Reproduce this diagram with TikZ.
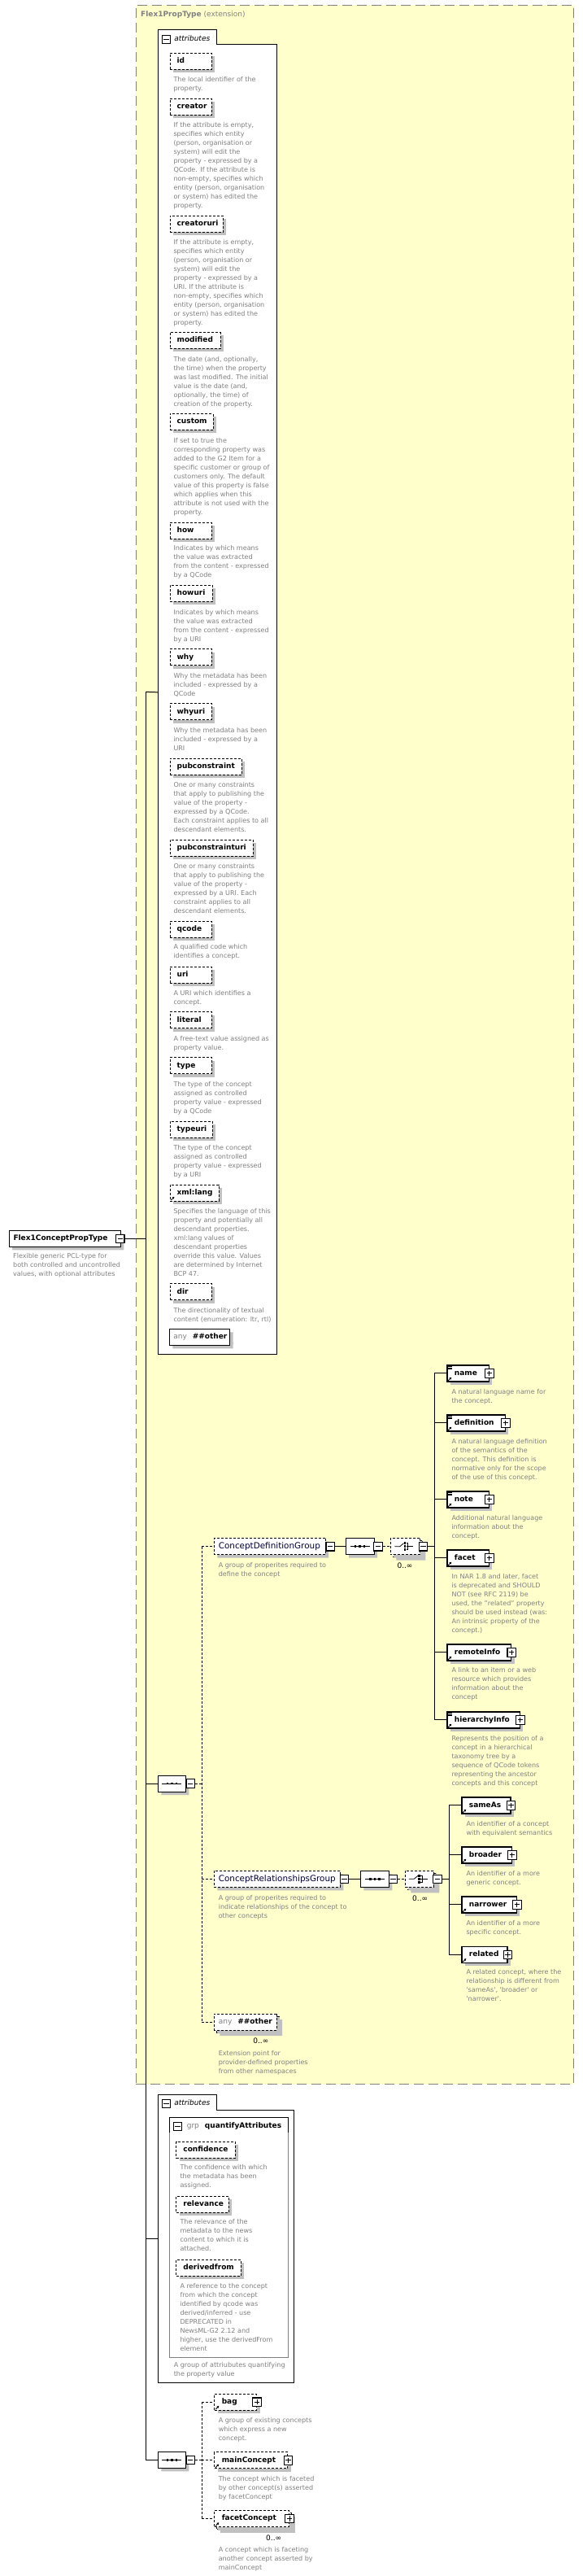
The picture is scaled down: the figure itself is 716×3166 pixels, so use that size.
\documentclass[tikz,border=0pt]{standalone}
\usepackage{fontspec}
\setmainfont{DejaVu Sans}
\usetikzlibrary{shapes.misc,shadows,arrows.meta}
\definecolor{yel}{RGB}{255,255,204}
\definecolor{dgray}{RGB}{128,128,128}
\definecolor{shc}{RGB}{192,192,192}
\definecolor{grpc}{RGB}{0,0,60}
\newcommand{\descfont}{\fontsize{8.05pt}{11pt}\selectfont}
\newcommand{\lblfont}{\fontsize{9pt}{11pt}\selectfont\bfseries}
\newcommand{\grpfont}{\fontsize{10.4pt}{12pt}\selectfont}
\newcommand{\mulfont}{\fontsize{9pt}{11pt}\selectfont}
\tikzset{
  shd/.style={general shadow={fill=shc, shadow xshift=4pt, shadow yshift=-4pt}},
  desc/.style={anchor=north west, inner sep=0pt, align=left, font=\descfont, text=dgray},
  lbl/.style={anchor=west, inner sep=0pt, font=\lblfont, text height=6.5pt, text depth=1.8pt},
  grplbl/.style={anchor=west, inner sep=0pt, font=\grpfont, text=grpc, text height=7.5pt, text depth=2pt},
  tablbl/.style={anchor=west, inner sep=0pt, font=\fontsize{9pt}{11pt}\selectfont\itshape, text height=6.5pt, text depth=1.8pt},
  rbox/.style={shape=rectangle, draw, fill=white, shd, minimum height=20pt, inner xsep=0pt, inner ysep=0pt, align=left, font=\lblfont, text height=6.5pt, text depth=1.8pt, anchor=north west},
  attrbox/.style={rbox, line width=0.9pt, dash pattern=on 3pt off 2pt},
  elbox/.style={rbox, line width=1.2pt},
  optbox/.style={rbox, line width=1pt, dash pattern=on 3pt off 2pt},
  oct/.style={chamfered rectangle, chamfered rectangle xsep=#1, chamfered rectangle ysep=#1, draw, fill=white, shd, inner sep=0pt, minimum height=20pt, line width=1pt},
  oct/.default=4pt,
  pmb/.style={shape=rectangle, draw, fill=white, line width=1.1pt, minimum width=10.5pt, minimum height=10.5pt, inner sep=0pt},
  minusb/.style={pmb, path picture={\draw[line width=1pt] ([xshift=-3.2pt]path picture bounding box.center) -- ([xshift=3.2pt]path picture bounding box.center);}},
  plusb/.style={pmb, path picture={\draw[line width=1pt] ([xshift=-3.2pt]path picture bounding box.center) -- ([xshift=3.2pt]path picture bounding box.center) ([yshift=-3.2pt]path picture bounding box.center) -- ([yshift=3.2pt]path picture bounding box.center);}},
  conn/.style={line width=1pt},
  oconn/.style={line width=1pt, dash pattern=on 3pt off 2pt},
  mul/.style={inner sep=0pt, font=\mulfont},
  odash/.style={dash pattern=on 3pt off 2pt},
}
\newcommand{\att}[5]{\node[attrbox, text width=#4pt] (#1) at (#2,#3) {\hspace*{8.7pt}#5};}
\newcommand{\dsc}[4]{\node[desc] (#1) at (#2,{#3-5}) {\rule{0pt}{8pt}#4};}
\newcommand{\elt}[6]{\node[#6, text width=#4pt] (#1) at (#2,#3) {\hspace*{9pt}#5};\node[plusb] (#1p) at (#1.east) {};}
\newcommand{\eqicon}[1]{\draw[line width=0.6pt] ([shift={(1.6,2)}]#1.north west) -- ++(5,0) ([shift={(1.6,3.7)}]#1.north west) -- ++(5,0) ([shift={(1.6,5.4)}]#1.north west) -- ++(5,0);}
\newcommand{\refarrow}[1]{\draw[line width=0.9pt, -{Triangle[length=2.6pt,width=2.8pt]}] ([shift={(1.8,-1.6)}]#1.south west) -- ++(4.2,-4.2);}
\newcommand{\seqicon}[1]{\draw[line width=0.8pt] ([xshift=-12pt]#1.center) -- ([xshift=12pt]#1.center);
  \foreach \dx in {-5.5,0,5.5} \fill ([shift={({\dx-1.3},-1.3)}]#1.center) rectangle ++(2.6,2.6);}
\newcommand{\choiceicon}[1]{\draw[line width=0.8pt] ([xshift=-13pt]#1.center) -- ([xshift=-6.6pt]#1.center) -- ([shift={(-1.8,-4)}]#1.center);
  \foreach \dy in {-4,0,4} \fill ([shift={(-1.7,{\dy-1.3})}]#1.center) rectangle ++(2.6,2.6);
  \draw[line width=0.8pt] ([shift={(1.2,-4)}]#1.center) -- ([shift={(3.4,-4)}]#1.center) -- ([shift={(3.4,4)}]#1.center) -- ([shift={(1.2,4)}]#1.center)
     ([shift={(1.2,0)}]#1.center) -- ([shift={(10,0)}]#1.center);}
\begin{document}
\begin{tikzpicture}[x=1pt,y=-1pt,line width=1pt]
\useasboundingbox (0,0) rectangle (716,3166);

% ---------- extension box ----------
\node[draw=dgray, fill=yel, dash pattern=on 12pt off 6pt, line width=1.2pt, minimum width=538.3pt, minimum height=2555.3pt, anchor=north west, inner sep=0pt] (ext) at (166.7,5.7) {};
\node[anchor=west, inner sep=0pt, font=\fontsize{9pt}{11pt}\selectfont, text=dgray] (title) at (172.7,18) {\textbf{Flex1PropType} (extension)};

% ---------- root ----------
\node[oct=4pt, minimum width=137.3pt] (root) at (79.65,1522.3) {};
\node[lbl] (rootl) at (16,1522.3) {Flex1ConceptPropType};
\node[minusb] (rootm) at (147.7,1522.3) {};
\dsc{rootd}{15.7}{1543.3}{Flexible generic PCL-type for\\both controlled and uncontrolled\\values, with optional attributes}

% ---------- attributes 1 ----------
\node[anchor=north west, minimum width=146.2pt, minimum height=1627.3pt, inner sep=0pt] (attrs1) at (194.3,36.7) {};
\draw[fill=white] (194.3,1664) -- (194.3,36.7) -- (266,36.7) -- (266,55) -- (340.5,55) -- (340.5,1664) -- cycle;
\node[minusb] (a1m) at (204.6,48.5) {};
\node[tablbl] (a1t) at (213.8,48) {attributes};

\att{id}{208.5}{65}{51.5}{id}
\dsc{idd}{213}{96.7}{The local identifier of the\\property.}
\att{creator}{208.5}{121}{51.5}{creator}
\dsc{creatord}{213}{153}{If the attribute is empty,\\specifies which entity\\(person, organisation or\\system) will edit the\\property - expressed by a\\QCode. If the attribute is\\non-empty, specifies which\\entity (person, organisation\\or system) has edited the\\property.}
\att{creatoruri}{208.5}{265}{65.5}{creatoruri}
\dsc{creatorurid}{213}{297}{If the attribute is empty,\\specifies which entity\\(person, organisation or\\system) will edit the\\property - expressed by a\\URI. If the attribute is\\non-empty, specifies which\\entity (person, organisation\\or system) has edited the\\property.}
\att{modified}{208.5}{408}{62.2}{modified}
\dsc{modifiedd}{213}{440.7}{The date (and, optionally,\\the time) when the property\\was last modified. The initial\\value is the date (and,\\optionally, the time) of\\creation of the property.}
\att{custom}{208.5}{508}{53.2}{custom}
\dsc{customd}{213}{540.7}{If set to true the\\corresponding property was\\added to the G2 Item for a\\specific customer or group of\\customers only. The default\\value of this property is false\\which applies when this\\attribute is not used with the\\property.}
\att{how}{208.5}{641.7}{51.5}{how}
\dsc{howd}{213}{673}{Indicates by which means\\the value was extracted\\from the content - expressed\\by a QCode}
\att{howuri}{208.5}{719}{52.5}{howuri}
\dsc{howurid}{213}{751.7}{Indicates by which means\\the value was extracted\\from the content - expressed\\by a URI}
\att{why}{208.5}{797.3}{51.5}{why}
\dsc{whyd}{213}{830}{Why the metadata has been\\included - expressed by a\\QCode}
\att{whyuri}{208.5}{864.3}{51.5}{whyuri}
\dsc{whyurid}{213}{896.7}{Why the metadata has been\\included - expressed by a\\URI}
\att{pubconstraint}{208.5}{931.7}{88.5}{pubconstraint}
\dsc{pubconstraintd}{213}{963.7}{One or many constraints\\that apply to publishing the\\value of the property -\\expressed by a QCode.\\Each constraint applies to all\\descendant elements.}
\att{pubconstrainturi}{208.5}{1031.7}{102.5}{pubconstrainturi}
\dsc{pubconstrainturid}{213}{1063.7}{One or many constraints\\that apply to publishing the\\value of the property -\\expressed by a URI. Each\\constraint applies to all\\descendant elements.}
\att{qcode}{208.5}{1131.7}{51.5}{qcode}
\dsc{qcoded}{213}{1163.3}{A qualified code which\\identifies a concept.}
\att{uri}{208.5}{1187.7}{51.5}{uri}
\dsc{urid}{213}{1220}{A URI which identifies a\\concept.}
\att{literal}{208.5}{1243.3}{51.5}{literal}
\dsc{literald}{213}{1276}{A free-text value assigned as\\property value.}
\att{type}{208.5}{1299.3}{51.5}{type}
\dsc{typed}{213}{1332}{The type of the concept\\assigned as controlled\\property value - expressed\\by a QCode}
\att{typeuri}{208.5}{1377.7}{52.5}{typeuri}
\dsc{typeurid}{213}{1410}{The type of the concept\\assigned as controlled\\property value - expressed\\by a URI}
\att{xmllang}{208.5}{1455.7}{60.2}{xml:lang}
\refarrow{xmllang}
\dsc{xmllangd}{213}{1487.7}{Specifies the language of this\\property and potentially all\\descendant properties.\\xml:lang values of\\descendant properties\\override this value. Values\\are determined by Internet\\BCP 47.}
\att{dir}{208.5}{1577.3}{51.5}{dir}
\dsc{dird}{213}{1610}{The directionality of textual\\content (enumeration: ltr, rtl)}
\node[oct=4pt, minimum width=74.4pt] (anya) at (245.5,1643.3) {};
\node[lbl] (anyal) at (212.8,1643.3) {\textmd{\textcolor{dgray}{any}}\hspace{7pt}\#\#other};

% ---------- inner sequence ----------
\node[oct=6pt, minimum width=34pt] (seqa) at (211.3,2192) {};
\seqicon{seqa}
\node[minusb] (seqam) at (234.2,2192) {};

% ---------- ConceptDefinitionGroup ----------
\node[oct=3.5pt, minimum width=136.7pt, odash] (cdg) at (331.65,1900.7) {};
\node[grplbl] (cdgl) at (268.3,1900.7) {ConceptDefinitionGroup};
\node[minusb] (cdgm) at (406.2,1900.7) {};
\dsc{cdgd}{268.3}{1922.7}{A group of properites required to\\define the concept}
\node[oct=6pt, minimum width=35pt] (seqg1) at (442.5,1900.7) {};
\seqicon{seqg1}
\node[minusb] (seqg1m) at (465,1900.7) {};
\node[oct=6pt, minimum width=36pt, odash] (chg1b) at (501.3,1903.7) {};
\node[oct=6pt, minimum width=36pt, odash] (chg1) at (498.3,1900.7) {};
\choiceicon{chg1}
\node[minusb] (chg1m) at (520.3,1900.7) {};
\node[mul] (chg1n) at (498,1924) {0..∞};

\elt{name}{549.3}{1677.3}{51.4}{name}{elbox}
\eqicon{name}\refarrow{name}
\dsc{named}{555}{1710}{A natural language name for\\the concept.}
\elt{defn}{549.3}{1738.3}{71.4}{definition}{elbox}
\eqicon{defn}\refarrow{defn}
\dsc{defnd}{555}{1770.7}{A natural language definition\\of the semantics of the\\concept. This definition is\\normative only for the scope\\of the use of this concept.}
\elt{note}{549.3}{1832.3}{51.4}{note}{elbox}
\eqicon{note}\refarrow{note}
\dsc{noted}{555}{1864.7}{Additional natural language\\information about the\\concept.}
\elt{facet}{549.3}{1904.3}{51.4}{facet}{elbox}
\refarrow{facet}
\dsc{facetd}{555}{1936.7}{In NAR 1.8 and later, facet\\is deprecated and SHOULD\\NOT (see RFC 2119) be\\used, the "related" property\\should be used instead (was:\\An intrinsic property of the\\concept.)}
\elt{remote}{549.3}{2020.3}{78.7}{remoteInfo}{elbox}
\refarrow{remote}
\dsc{remoted}{555}{2052.3}{A link to an item or a web\\resource which provides\\information about the\\concept}
\elt{hier}{549.3}{2103.3}{89.4}{hierarchyInfo}{elbox}
\eqicon{hier}\refarrow{hier}
\dsc{hierd}{555}{2135.7}{Represents the position of a\\concept in a hierarchical\\taxonomy tree by a\\sequence of QCode tokens\\representing the ancestor\\concepts and this concept}

% ---------- ConceptRelationshipsGroup ----------
\node[oct=3.5pt, minimum width=155pt, odash] (crg) at (340.8,2309.3) {};
\node[grplbl] (crgl) at (268.3,2309.3) {ConceptRelationshipsGroup};
\node[minusb] (crgm) at (423.6,2309.3) {};
\dsc{crgd}{268.3}{2331.7}{A group of properites required to\\indicate relationships of the concept to\\other concepts}
\node[oct=6pt, minimum width=35pt] (seqg2) at (460.8,2309.3) {};
\seqicon{seqg2}
\node[minusb] (seqg2m) at (483.3,2309.3) {};
\node[oct=6pt, minimum width=35pt, odash] (chg2b) at (518.8,2312.3) {};
\node[oct=6pt, minimum width=35pt, odash] (chg2) at (515.8,2309.3) {};
\choiceicon{chg2}
\node[minusb] (chg2m) at (538,2309.3) {};
\node[mul] (chg2n) at (516.7,2332.7) {0..∞};

\elt{sameas}{567.3}{2208.3}{60}{sameAs}{elbox}
\refarrow{sameas}
\dsc{sameasd}{573}{2240.7}{An identifier of a concept\\with equivalent semantics}
\elt{broader}{567.3}{2269.3}{61.4}{broader}{elbox}
\refarrow{broader}
\dsc{broaderd}{573}{2301.7}{An identifier of a more\\generic concept.}
\elt{narrower}{567.3}{2330.3}{67.4}{narrower}{elbox}
\refarrow{narrower}
\dsc{narrowerd}{573}{2362.7}{An identifier of a more\\specific concept.}
\elt{related}{567.3}{2391.7}{56}{related}{elbox}
\refarrow{related}
\dsc{relatedd}{573}{2423.3}{A related concept, where the\\relationship is different from\\\textquotesingle sameAs\textquotesingle, \textquotesingle broader\textquotesingle\ or\\\textquotesingle narrower\textquotesingle.}

% ---------- any ##other ----------
\node[oct=4pt, minimum width=76.7pt, odash] (anyob) at (304.65,2488) {};
\node[oct=4pt, minimum width=76.7pt, odash] (anyo) at (301.65,2485) {};
\node[lbl] (anyol) at (268.3,2485) {\textmd{\textcolor{dgray}{any}}\hspace{7pt}\#\#other};
\node[mul] (anyon) at (320.8,2508.3) {0..∞};
\dsc{anyod}{268.3}{2522.7}{Extension point for\\provider-defined properties\\from other namespaces}

% ---------- attributes 2 ----------
\node[anchor=north west, minimum width=167pt, minimum height=354pt, inner sep=0pt] (attrs2) at (194.7,2574.3) {};
\draw[fill=white] (194.7,2928.3) -- (194.7,2574.3) -- (266,2574.3) -- (266,2593.3) -- (361.7,2593.3) -- (361.7,2928.3) -- cycle;
\node[minusb] (a2m) at (204.6,2585.3) {};
\node[tablbl] (a2t) at (213.8,2584.8) {attributes};
\draw[dgray, fill=white] (208.3,2602.3) rectangle (354,2897.3);
\draw (208.3,2621) -- (208.3,2602.3) -- (354,2602.3) -- (354,2621);
\node[minusb] (grpm) at (218.6,2613.6) {};
\node[lbl] (grpl) at (229.3,2613.3) {\textmd{\textcolor{dgray}{grp}}\hspace{7pt}quantifyAttributes};
\att{confidence}{216.3}{2631.7}{72.7}{confidence}
\dsc{confidenced}{221}{2663.3}{The confidence with which\\the metadata has been\\assigned.}
\att{relevance}{216.3}{2698.7}{64.4}{relevance}
\dsc{relevanced}{221}{2730.3}{The relevance of the\\metadata to the news\\content to which it is\\attached.}
\att{derivedfrom}{216.3}{2776.7}{79.4}{derivedfrom}
\dsc{derivedfromd}{221}{2808.7}{A reference to the concept\\from which the concept\\identified by qcode was\\derived/inferred - use\\DEPRECATED in\\NewsML-G2 2.12 and\\higher, use the derivedFrom\\element}
\dsc{grpd}{213.3}{2905.7}{A group of attriubutes quantifying\\the property value}

% ---------- bottom sequence ----------
\node[oct=6pt, minimum width=34pt] (seqb) at (211.3,3023.3) {};
\seqicon{seqb}
\node[minusb] (seqbm) at (234.2,3023.3) {};
\elt{bag}{263.3}{2941.7}{51.7}{bag}{optbox}
\refarrow{bag}
\dsc{bagd}{268.3}{2973.7}{A group of existing concepts\\which express a new\\concept.}
\elt{mainc}{263.3}{3013.3}{90}{mainConcept}{optbox}
\refarrow{mainc}
\dsc{maincd}{268.3}{3045.7}{The concept which is faceted\\by other concept(s) asserted\\by facetConcept}
\node[optbox, text width=91.7pt] (facetcb) at (266.3,3088) {};
\elt{facetc}{263.3}{3085}{91.7}{facetConcept}{optbox}
\refarrow{facetc}
\node[mul] (facetcn) at (336.7,3119) {0..∞};
\dsc{facetcd}{268.3}{3133.3}{A concept which is faceting\\another concept asserted by\\mainConcept}

% ---------- connectors ----------
\coordinate (spT) at (179.3,850.35);
\coordinate (spB) at (179.3,3023.3);
\draw[conn] (rootm.east) -- (rootm.east -| spT);
\draw[conn] (spT) -- (spB);
\draw[conn] (spT) -- (attrs1.west);
\draw[conn] (seqa.west -| spT) -- (seqa.west);
\draw[conn] (attrs2.west -| spT) -- (attrs2.west);
\draw[conn] (spB) -- (seqb.west);

\coordinate (gv) at (248.3,1900.7);
\draw[oconn] (gv) -- (gv |- anyo.west);
\draw[oconn] (seqam.east) -- (seqam.east -| gv);
\draw[oconn] (gv) -- (cdg.west);
\draw[oconn] (crg.west -| gv) -- (crg.west);
\draw[oconn] (anyo.west -| gv) -- (anyo.west);

\draw[conn] (cdgm.east) -- (seqg1.west);
\draw[oconn] (seqg1m.east) -- (chg1.west);
\coordinate (v1) at (534.3,1900.7);
\draw[conn] (chg1m.east) -- (v1);
\draw[conn] (v1 |- name.west) -- (v1 |- hier.west);
\foreach \n in {name,defn,note,facet,remote,hier} \draw[conn] (v1 |- \n.west) -- (\n.west);

\draw[conn] (crgm.east) -- (seqg2.west);
\draw[oconn] (seqg2m.east) -- (chg2.west);
\coordinate (v2) at (552.3,2309.3);
\draw[conn] (chg2m.east) -- (v2);
\draw[conn] (v2 |- sameas.west) -- (v2 |- related.west);
\foreach \n in {sameas,broader,narrower,related} \draw[conn] (v2 |- \n.west) -- (\n.west);

\coordinate (bv) at (248.3,3023.3);
\draw[oconn] (seqbm.east) -- (bv);
\draw[oconn] (bv |- bag.west) -- (bv |- facetc.west);
\foreach \n in {bag,mainc,facetc} \draw[oconn] (bv |- \n.west) -- (\n.west);
\end{tikzpicture}
\end{document}
